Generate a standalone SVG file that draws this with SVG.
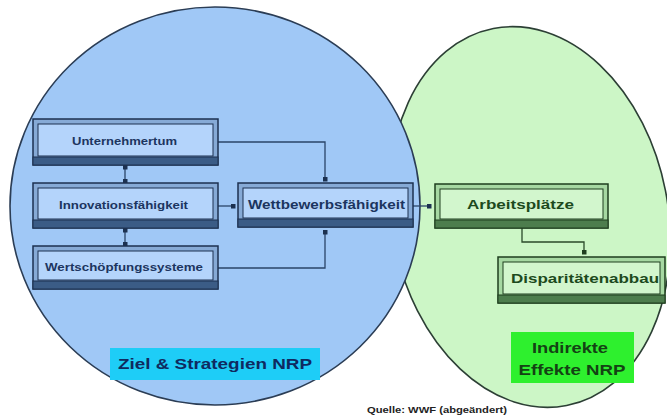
<svg xmlns="http://www.w3.org/2000/svg" width="667" height="419" viewBox="0 0 667 419">
<style>
text{font-family:"Liberation Sans",Arial,sans-serif;font-weight:bold}
.bo{fill:#86aad6;stroke:#1c3150;stroke-width:1.5}
.bb{fill:#3b5c86;stroke:#1c3150;stroke-width:1}
.bi{fill:#b4d4fb;stroke:#1c3150;stroke-width:1}
.go{fill:#a6d8a2;stroke:#1e3e1e;stroke-width:1.5}
.gb{fill:#4d7d4d;stroke:#1e3e1e;stroke-width:1}
.gi{fill:#d2f6cd;stroke:#1e3e1e;stroke-width:1}
.tb{fill:#1c3560;font-size:10.5px}
.tg{fill:#1d4a1d;font-size:13px}
.cb{fill:none;stroke:#2a4468;stroke-width:1.3}
.cg{fill:none;stroke:#2a4a2a;stroke-width:1.3}
</style>
<defs>
<marker id="db" markerWidth="5" markerHeight="5" refX="2.5" refY="2.5" orient="auto" markerUnits="userSpaceOnUse"><rect width="5" height="5" fill="#1c3150"/></marker>
<marker id="dg" markerWidth="5" markerHeight="5" refX="2.5" refY="2.5" orient="auto" markerUnits="userSpaceOnUse"><rect width="5" height="5" fill="#1e3e1e"/></marker>
</defs>
<rect width="667" height="419" fill="#ffffff"/>
<g id="ellipse-green">
<ellipse cx="530" cy="217" rx="138" ry="192" transform="rotate(-11 530 217)" fill="#ccf6c6" stroke="#2c3f35" stroke-width="1.6"/>
</g>
<g id="ellipse-blue">
<ellipse cx="215" cy="206" rx="205" ry="199" fill="#a0c8f6" stroke="#2b3d55" stroke-width="1.6"/>
</g>
<g id="connectors">
<path class="cb" d="M125,167 V181" marker-start="url(#db)" marker-end="url(#db)"/>
<path class="cb" d="M125,230 V244" marker-start="url(#db)" marker-end="url(#db)"/>
<path class="cb" d="M218,142 H325 V179" marker-end="url(#db)"/>
<path class="cb" d="M218,206 H233" marker-end="url(#db)"/>
<path class="cb" d="M218,268 H325 V232" marker-end="url(#db)"/>
<path class="cb" d="M413,206 H429" marker-end="url(#db)"/>
<path class="cg" d="M522,228 V242 H584 V252" marker-end="url(#dg)"/>
</g>
<g id="n-unternehmertum">
<rect class="bo" x="33" y="119" width="185" height="46"/>
<rect class="bb" x="33" y="157" width="185" height="8"/>
<rect class="bi" x="38" y="124" width="175" height="32"/>
<text class="tb" x="124.5" y="145" text-anchor="middle" textLength="105" lengthAdjust="spacingAndGlyphs">Unternehmertum</text>
</g>
<g id="n-innovation">
<rect class="bo" x="33" y="183" width="185" height="45"/>
<rect class="bb" x="33" y="220" width="185" height="8"/>
<rect class="bi" x="38" y="188" width="175" height="31"/>
<text class="tb" x="123.5" y="209" text-anchor="middle" textLength="129" lengthAdjust="spacingAndGlyphs">Innovationsfähigkeit</text>
</g>
<g id="n-wertschoepfung">
<rect class="bo" x="33" y="246" width="185" height="43"/>
<rect class="bb" x="33" y="281" width="185" height="8"/>
<rect class="bi" x="38" y="251" width="175" height="29"/>
<text class="tb" x="124" y="271" text-anchor="middle" textLength="158" lengthAdjust="spacingAndGlyphs">Wertschöpfungssysteme</text>
</g>
<g id="n-wettbewerb">
<rect class="bo" x="238" y="183" width="175" height="44"/>
<rect class="bb" x="238" y="219" width="175" height="8"/>
<rect class="bi" x="243" y="188" width="165" height="30"/>
<text class="tb" x="326.5" y="209" text-anchor="middle" style="font-size:12px" textLength="157" lengthAdjust="spacingAndGlyphs">Wettbewerbsfähigkeit</text>
</g>
<g id="n-arbeitsplaetze">
<rect class="go" x="435" y="184" width="173" height="44"/>
<rect class="gb" x="435" y="220" width="173" height="8"/>
<rect class="gi" x="440" y="189" width="163" height="30"/>
<text class="tg" x="520.5" y="209" text-anchor="middle" textLength="107" lengthAdjust="spacingAndGlyphs">Arbeitsplätze</text>
</g>
<g id="n-disparitaeten">
<rect class="go" x="498" y="257" width="167" height="46"/>
<rect class="gb" x="498" y="295" width="167" height="8"/>
<rect class="gi" x="503" y="262" width="157" height="32"/>
<text class="tg" x="585" y="283" text-anchor="middle" textLength="148" lengthAdjust="spacingAndGlyphs">Disparitätenabbau</text>
</g>
<g id="label-ziel">
<rect x="110" y="348" width="210" height="32" fill="#1ecdf7"/>
<text x="215" y="369" text-anchor="middle" fill="#0f2a60" style="font-size:15px" textLength="194" lengthAdjust="spacingAndGlyphs">Ziel &amp; Strategien NRP</text>
</g>
<g id="label-indirekte">
<rect x="511" y="332" width="123" height="51" fill="#2ef02e"/>
<text x="570" y="353" text-anchor="middle" fill="#144214" style="font-size:15px" textLength="76" lengthAdjust="spacingAndGlyphs">Indirekte</text>
<text x="572" y="375" text-anchor="middle" fill="#144214" style="font-size:15px" textLength="107" lengthAdjust="spacingAndGlyphs">Effekte NRP</text>
</g>
<g id="source">
<text x="437" y="413" text-anchor="middle" fill="#222" style="font-size:9px" textLength="140" lengthAdjust="spacingAndGlyphs">Quelle: WWF (abgeändert)</text>
</g>
</svg>
